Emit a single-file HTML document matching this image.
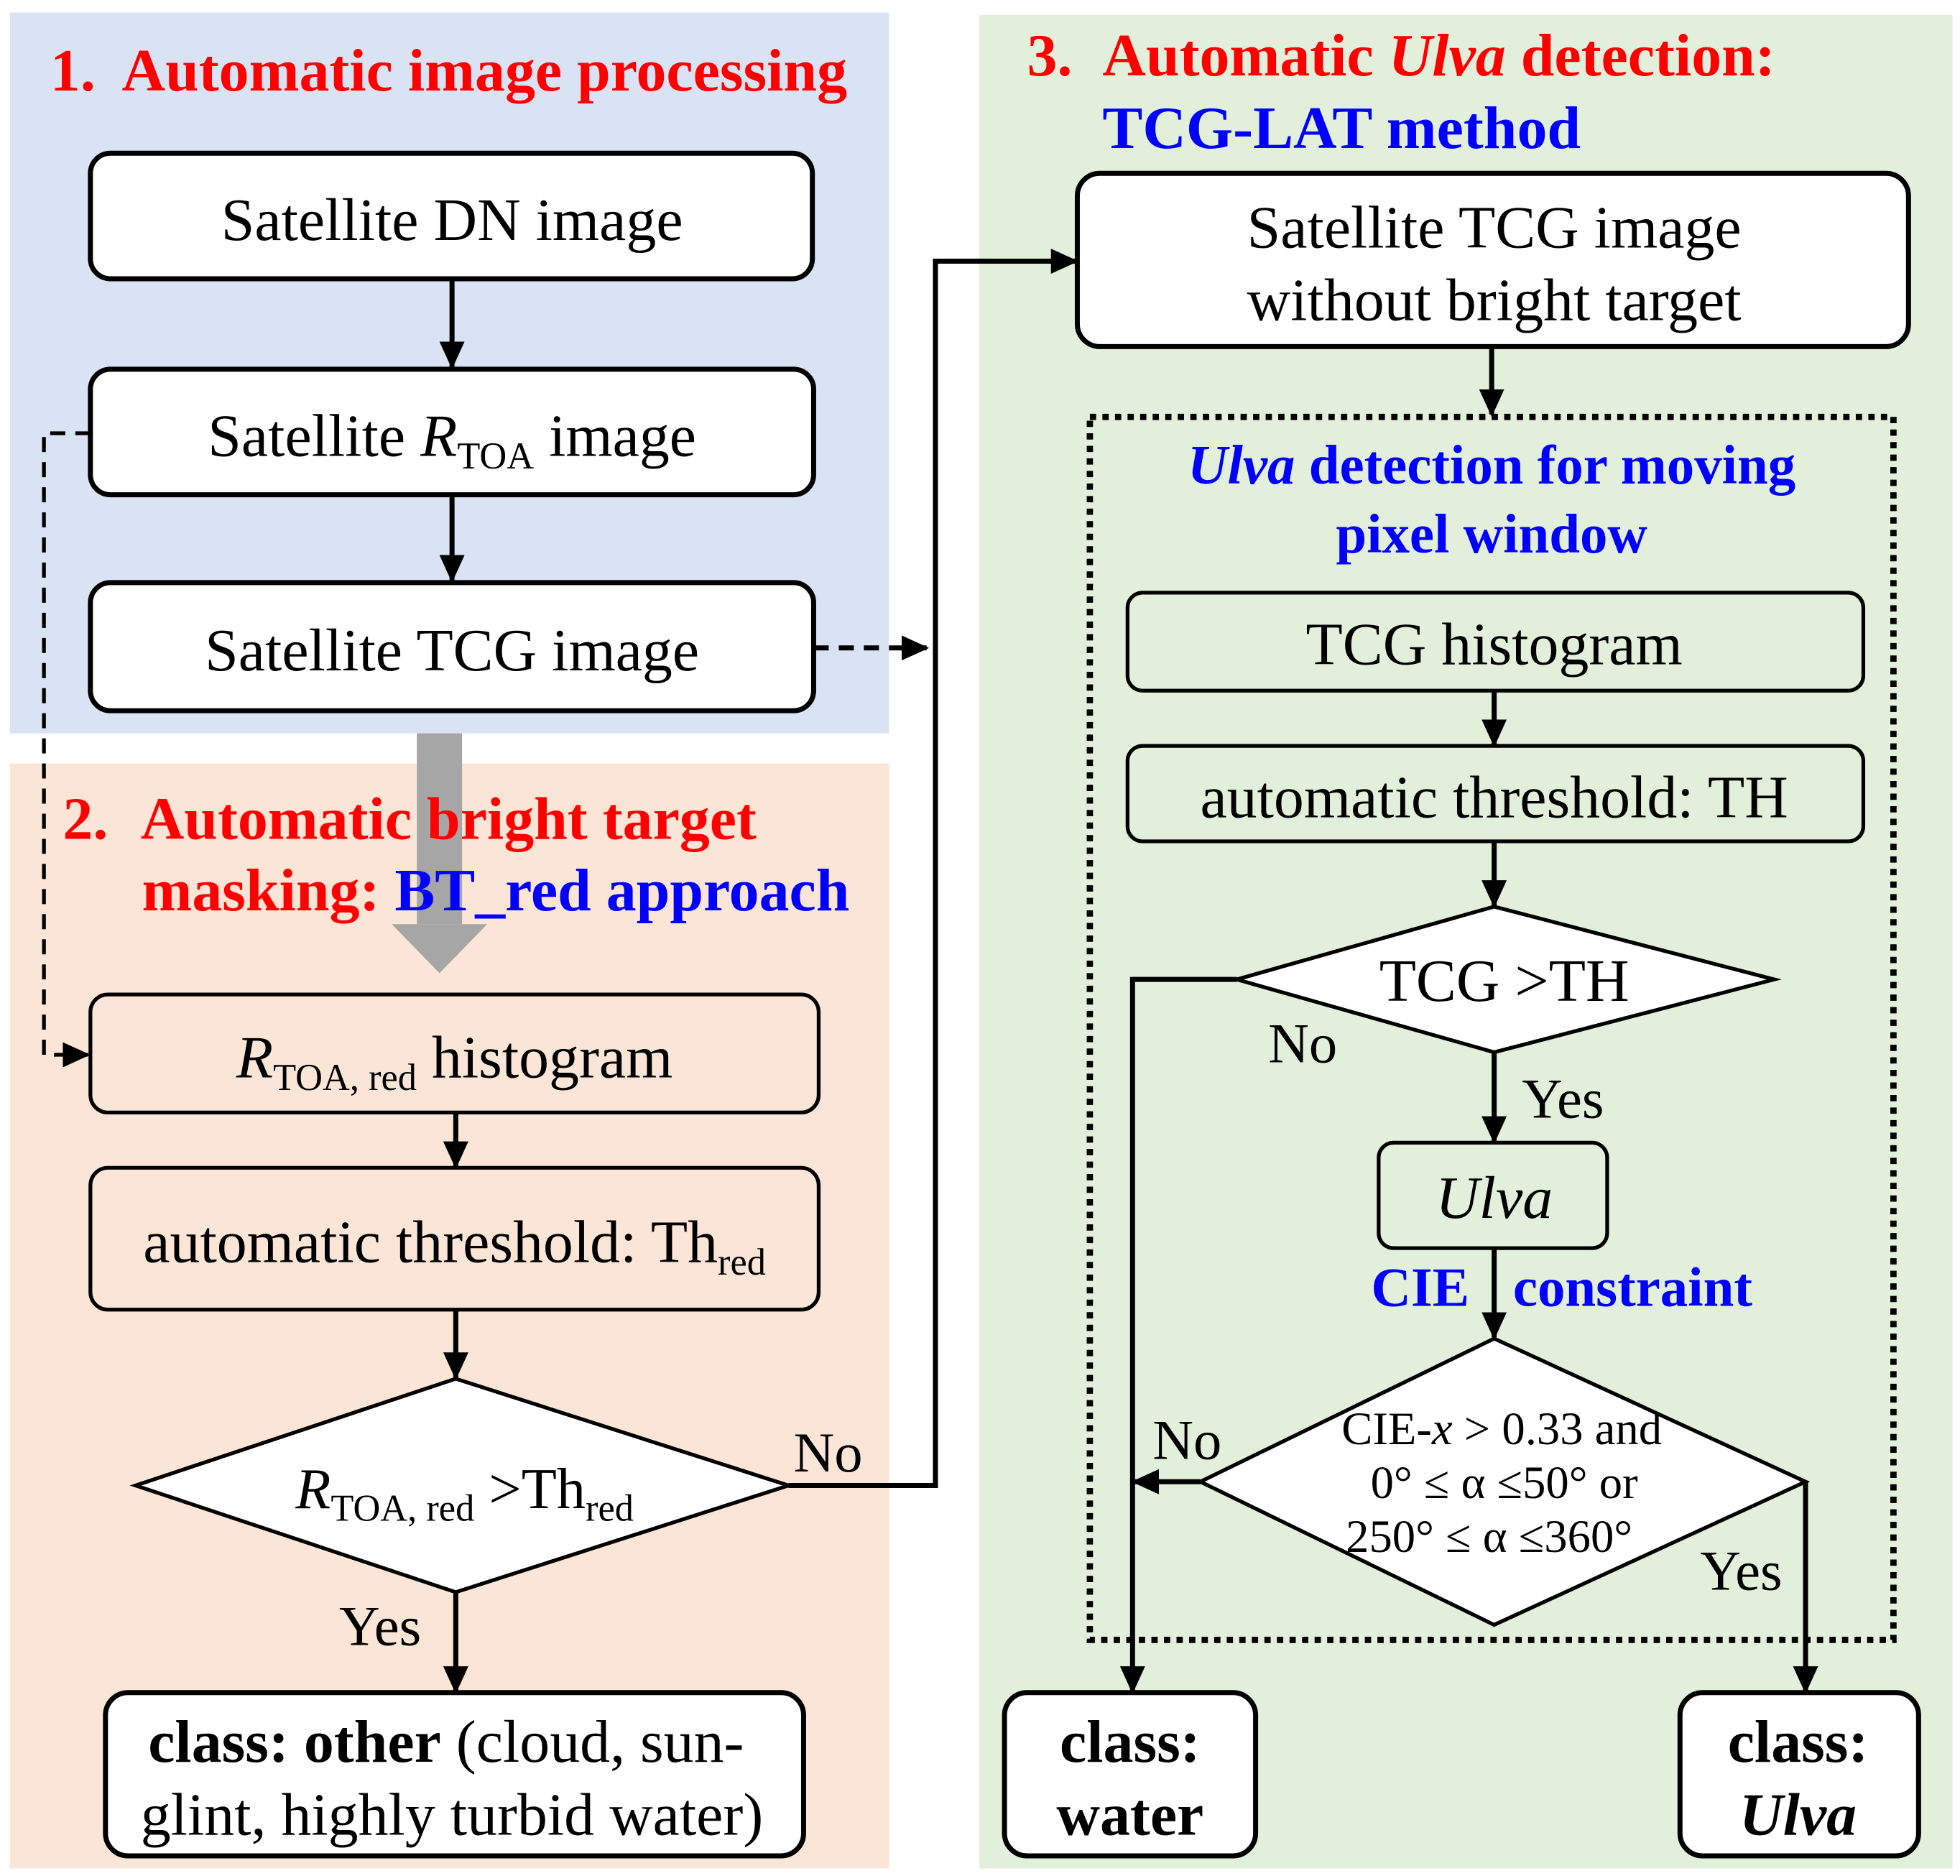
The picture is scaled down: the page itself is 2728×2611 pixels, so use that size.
<!DOCTYPE html>
<html><head><meta charset="utf-8"><style>
html,body{margin:0;padding:0;background:#fff}
svg{display:block}
text{font-family:"Liberation Serif",serif}
</style></head><body>
<svg width="2728" height="2611" viewBox="0 0 1561 1494" xmlns="http://www.w3.org/2000/svg">
<defs>
<marker id="a2" markerWidth="22" markerHeight="20" refX="20" refY="10" orient="auto" markerUnits="userSpaceOnUse">
<path d="M0,0 L22,10 L0,20 z" fill="#000"/>
</marker>
</defs>
<rect x="8" y="10" width="700" height="574" fill="#dae3f3"/>
<rect x="8" y="608" width="700" height="880" fill="#fbe5d6"/>
<rect x="780" y="12" width="775" height="1476" fill="#e2efda"/>

<rect x="332" y="584" width="36" height="152" fill="#a6a6a6"/>
<path d="M312,736 L388,736 L350,775 z" fill="#a6a6a6"/>

<g font-size="48" font-weight="bold">
<text x="40" y="72" fill="#ff0000">1.<tspan x="97">Automatic image processing</tspan></text>
<text x="50" y="668" fill="#ff0000">2.<tspan x="112">Automatic bright target</tspan></text>
<text x="113" y="725" fill="#ff0000">masking: <tspan fill="#0000ff">BT_red approach</tspan></text>
<text x="818" y="60" fill="#ff0000">3.<tspan x="878">Automatic <tspan font-style="italic">Ulva</tspan> detection:</tspan></text>
<text x="878" y="118" fill="#0000ff">TCG-LAT method</text>
</g>

<g fill="#fff" stroke="#000" stroke-width="4">
<rect x="72" y="122" width="575" height="100" rx="16"/>
<rect x="72" y="294" width="576" height="100" rx="16"/>
<rect x="72" y="464" width="576" height="102" rx="16"/>
<rect x="84" y="1348" width="556" height="130" rx="18"/>
<rect x="858" y="138" width="662" height="138" rx="18"/>
<rect x="800" y="1348" width="200" height="130" rx="18"/>
<rect x="1338" y="1348" width="190" height="130" rx="18"/>
<path d="M108,1183 L363,1098 L628,1183 L363,1268 z" stroke-width="3"/>
<path d="M985,780 L1190,722 L1413,780 L1190,838 z" stroke-width="3"/>
<path d="M956,1180 L1190,1066 L1438,1180 L1190,1294 z" stroke-width="3"/>
</g>
<g fill="none" stroke="#000" stroke-width="3">
<rect x="72" y="792" width="580" height="94" rx="14"/>
<rect x="72" y="930" width="580" height="113" rx="14"/>
<rect x="898" y="472" width="586" height="78" rx="12"/>
<rect x="898" y="594" width="586" height="76" rx="12"/>
<rect x="1098" y="910" width="182" height="84" rx="12"/>
</g>
<rect x="868" y="332" width="640" height="974" fill="none" stroke="#000" stroke-width="5" stroke-dasharray="5,5"/>

<g stroke="#000" stroke-width="4" fill="none">
<line x1="360" y1="222" x2="360" y2="292" marker-end="url(#a2)"/>
<line x1="360" y1="394" x2="360" y2="462" marker-end="url(#a2)"/>
<line x1="363" y1="886" x2="363" y2="929" marker-end="url(#a2)"/>
<line x1="363" y1="1043" x2="363" y2="1097" marker-end="url(#a2)"/>
<line x1="363" y1="1268" x2="363" y2="1347" marker-end="url(#a2)"/>
<polyline points="628,1183 745,1183 745,208 857,208" marker-end="url(#a2)"/>
<line x1="1188" y1="276" x2="1188" y2="330" marker-end="url(#a2)"/>
<line x1="1190" y1="550" x2="1190" y2="593" marker-end="url(#a2)"/>
<line x1="1190" y1="670" x2="1190" y2="721" marker-end="url(#a2)"/>
<polyline points="985,780 902,780 902,1347" marker-end="url(#a2)"/>
<line x1="1190" y1="838" x2="1190" y2="909" marker-end="url(#a2)"/>
<line x1="1190" y1="994" x2="1190" y2="1065" marker-end="url(#a2)"/>
<line x1="956" y1="1180" x2="903" y2="1180" marker-end="url(#a2)"/>
<polyline points="1438,1180 1438,1347" marker-end="url(#a2)"/>
<line x1="648" y1="516" x2="738" y2="516" stroke-dasharray="12,8" marker-end="url(#a2)"/>
<polyline points="72,345 35,345 35,840 70,840" stroke-width="3" stroke-dasharray="12,8" marker-end="url(#a2)"/>
</g>

<g font-size="48" text-anchor="middle">
<text x="360" y="191">Satellite DN image</text>
<text x="360" y="363">Satellite <tspan font-style="italic">R</tspan><tspan font-size="30" dy="10">TOA</tspan><tspan dy="-10"> image</tspan></text>
<text x="360" y="534">Satellite TCG image</text>
<text x="362" y="858"><tspan font-style="italic">R</tspan><tspan font-size="30" dy="10">TOA, red</tspan><tspan dy="-10"> histogram</tspan></text>
<text x="362" y="1005">automatic threshold: Th<tspan font-size="30" dy="10">red</tspan></text>
<text x="370" y="1201" font-size="46"><tspan font-style="italic">R</tspan><tspan font-size="30" dy="10">TOA, red</tspan><tspan dy="-10"> &gt;Th</tspan><tspan font-size="30" dy="10">red</tspan></text>
<text x="1190" y="197">Satellite TCG image</text>
<text x="1190" y="255">without bright target</text>
<text x="1190" y="529">TCG histogram</text>
<text x="1190" y="651">automatic threshold: TH</text>
<text x="1198" y="797">TCG &gt;TH</text>
<text x="1190" y="970" font-style="italic">Ulva</text>
<text x="1188" y="385" font-size="44" font-weight="bold" fill="#0000ff"><tspan font-style="italic">Ulva</tspan> detection for moving</text>
<text x="1188" y="440" font-size="44" font-weight="bold" fill="#0000ff">pixel window</text>
<text x="900" y="1403" font-weight="bold">class:</text>
<text x="900" y="1461" font-weight="bold">water</text>
<text x="1432" y="1403" font-weight="bold">class:</text>
<text x="1432" y="1461" font-weight="bold" font-style="italic">Ulva</text>
</g>
<g font-size="48">
<text x="118" y="1403"><tspan font-weight="bold">class: other</tspan> (cloud, sun-</text>
<text x="112" y="1461">glint, highly turbid water)</text>
</g>
<g font-size="45">
<text x="632" y="1172">No</text>
<text x="270" y="1310">Yes</text>
<text x="1010" y="846">No</text>
<text x="1212" y="890">Yes</text>
<text x="918" y="1162">No</text>
<text x="1354" y="1266">Yes</text>
</g>
<g font-size="44" font-weight="bold" fill="#0000ff">
<text x="1092" y="1040">CIE</text>
<text x="1205" y="1040">constraint</text>
</g>
<g font-size="37" text-anchor="middle">
<text x="1196" y="1150">CIE-<tspan font-style="italic">x</tspan> &gt; 0.33 and</text>
<text x="1198" y="1193">0°  ≤ α ≤50°   or</text>
<text x="1186" y="1236">250°  ≤ α ≤360°</text>
</g>
</svg>
</body></html>
